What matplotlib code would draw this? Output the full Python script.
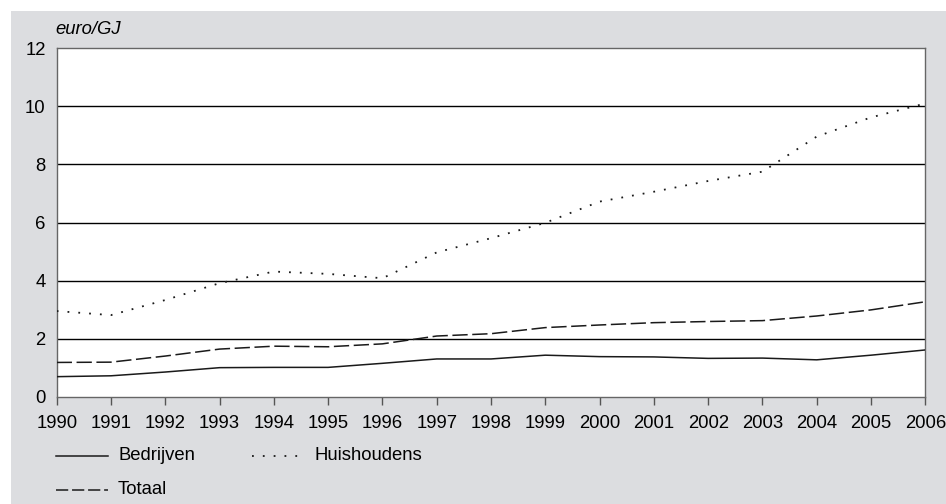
import numpy as np
import matplotlib.pyplot as plt
from matplotlib.patches import Rectangle
from matplotlib.lines import Line2D

# Energieprijzen (euro/GJ), 1990-2006
years = list(range(1990, 2007))
bedrijven = [0.69, 0.72, 0.85, 1.00, 1.01, 1.01, 1.15, 1.30, 1.30, 1.43,
             1.38, 1.37, 1.32, 1.33, 1.27, 1.43, 1.61]
huishoudens = [2.95, 2.81, 3.33, 3.91, 4.31, 4.23, 4.08, 4.97, 5.46, 5.99,
               6.72, 7.06, 7.43, 7.75, 8.96, 9.62, 10.10]
totaal = [1.18, 1.19, 1.40, 1.64, 1.74, 1.72, 1.82, 2.09, 2.17, 2.38,
          2.47, 2.55, 2.59, 2.62, 2.78, 2.99, 3.27]
yticks = [0, 2, 4, 6, 8, 10, 12]

plt.rcParams['font.family'] = ['Liberation Sans', 'DejaVu Sans']
lineColor = '#1a1a1a'
FS = 13.3
W, H = 946, 504

fig = plt.figure(figsize=(9.46, 5.04), dpi=100)
fig.patch.set_facecolor('white')
# grijze achtergrond
fig.patches.append(Rectangle((11 / W, 0), 1, (H - 11) / H,
                             transform=fig.transFigure, facecolor='#dcdde0',
                             edgecolor='none', zorder=-10))

ax = fig.add_axes([56.7 / W, 107.3 / H, 868.6 / W, 348.4 / H])
ax.set_zorder(5)
ax.set_facecolor('white')

for y in yticks[1:-1]:
    ax.axhline(y, color='black', linewidth=1.0, zorder=1)

styles = {
    'Bedrijven': dict(linewidth=1.1, linestyle='-'),
    'Totaal': dict(linewidth=1.1, linestyle=(0, (10, 3))),
    'Huishoudens': dict(linewidth=1.3, linestyle=(0, (1, 5))),
}
ax.plot(years, bedrijven, color=lineColor, zorder=3, **styles['Bedrijven'])
ax.plot(years, totaal, color=lineColor, zorder=3, **styles['Totaal'])
ax.plot(years, huishoudens, color=lineColor, zorder=3, **styles['Huishoudens'])

ax.set_xlim(1990, 2006)
ax.set_ylim(0, 12)
ax.set_xticks(years)
ax.set_xticklabels([str(y) for y in years], fontsize=FS)
ax.set_yticks(yticks)
ax.set_yticklabels([str(y) for y in yticks], fontsize=FS)
ax.tick_params(axis='x', direction='out', length=6, width=1, color='#555555', pad=7)
ax.tick_params(axis='y', length=0, pad=8)
for s in ax.spines.values():
    s.set_color('#666666')
    s.set_linewidth(1.0)

fig.text(55 / W, 1 - 30 / H, 'euro/GJ', fontsize=FS, style='italic',
         va='center', ha='left')

# legenda (handmatig, zoals in het origineel)
legendItems = [('Bedrijven', 56, 456), ('Huishoudens', 252, 456), ('Totaal', 56, 490)]
for label, x0, y0 in legendItems:
    st = dict(styles[label])
    if label == 'Totaal':
        st['linestyle'] = (0, (8, 2.5))
    fig.add_artist(Line2D([x0 / W, (x0 + 52) / W], [1 - y0 / H, 1 - y0 / H],
                          transform=fig.transFigure, color=lineColor, **st))
    fig.text((x0 + 62) / W, 1 - y0 / H, label, fontsize=FS, va='center', ha='left')

fig.savefig('out.png', dpi=100)
